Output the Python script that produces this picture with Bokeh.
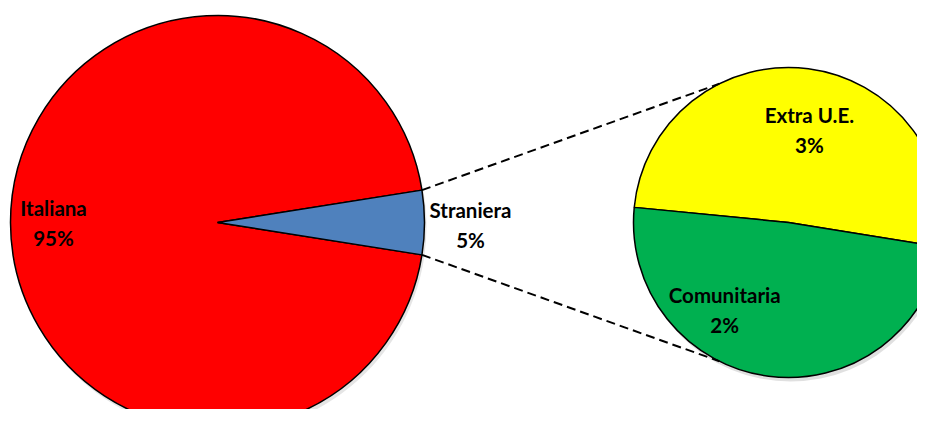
import math
from bokeh.plotting import figure
from bokeh.models import Range1d, ColumnDataSource
from bokeh.core.properties import value
from bokeh.embed import file_html
from bokeh.resources import INLINE

# ---- data ----
main_categories = ["Italiana", "Straniera"]
main_values = [95, 5]
sub_categories = ["Extra U.E.", "Comunitaria"]
sub_values = [2.55, 2.45]          # shares of the foreign 5%
main_colors = ["#FF0000", "#4F81BD"]
sub_colors = ["#FFFF00", "#00B050"]

# ---- layout (screen-pixel geometry; data y = 425 - screen y) ----
W, H = 917, 409
BIG_C = (217, 425 - 222)
BIG_R = 207
SMALL_C = (788, 425 - 222)
SMALL_R = 155
SMALL_START = 174.4          # degrees, where the Comunitaria slice starts
CONNECT_ANG = 116.5          # where connector lines meet the small pie

p = figure(width=W, height=H, output_backend="svg", toolbar_location=None,
           x_range=Range1d(0, W), y_range=Range1d(425 - H, 425),
           min_border=0)
p.axis.visible = False
p.grid.visible = False
p.outline_line_color = None
p.background_fill_color = "white"
p.border_fill_color = "white"

# ---- main pie ----
tot = sum(main_values)
strn = main_values[1] / tot * 2 * math.pi
s_start, s_end = -strn / 2, strn / 2
main_src = ColumnDataSource(dict(
    x=[BIG_C[0]] * 2, y=[BIG_C[1]] * 2,
    start=[s_end, s_start], end=[s_start + 2 * math.pi, s_end],
    color=main_colors, name=main_categories))

# soft shadows
p.circle(x=[BIG_C[0] + 2], y=[BIG_C[1] - 4], radius=BIG_R, fill_color="black",
         fill_alpha=0.10, line_color=None)
p.circle(x=[SMALL_C[0] + 2], y=[SMALL_C[1] - 4], radius=SMALL_R, fill_color="black",
         fill_alpha=0.12, line_color=None)

p.wedge(x="x", y="y", radius=BIG_R, start_angle="start", end_angle="end",
        fill_color="color", line_color="black", line_width=1.5, source=main_src)

# ---- secondary pie ----
stot = sum(sub_values)
g_ang = sub_values[1] / stot * 2 * math.pi
g_start = math.radians(SMALL_START)
g_end = g_start + g_ang
sub_src = ColumnDataSource(dict(
    x=[SMALL_C[0]] * 2, y=[SMALL_C[1]] * 2,
    start=[g_end, g_start], end=[g_start + 2 * math.pi, g_end],
    color=sub_colors, name=sub_categories))
p.wedge(x="x", y="y", radius=SMALL_R, start_angle="start", end_angle="end",
        fill_color="color", line_color="black", line_width=1.5, source=sub_src)

# ---- connector lines ----
ca = math.radians(CONNECT_ANG)
for sa, sgn in ((s_end, 1), (s_start, -1)):
    x0 = BIG_C[0] + BIG_R * math.cos(sa)
    y0 = BIG_C[1] + BIG_R * math.sin(sa)
    x1 = SMALL_C[0] + SMALL_R * math.cos(sgn * ca)
    y1 = SMALL_C[1] + SMALL_R * math.sin(sgn * ca)
    p.line([x0, x1], [y0, y1], line_color="black", line_width=2, line_dash="9 5")

# ---- labels ----
labels = [f"{c}\n{round(v)}%" for c, v in zip(main_categories, main_values)] + \
         [f"{c}\n{round(v)}%" for c, v in zip(sub_categories, sub_values)]
# label positions (polar offsets from each pie centre: angle deg, distance px)
label_polar = [(BIG_C, 180.3, 164), (BIG_C, -0.5, 253),
               (SMALL_C, 77.3, 95), (SMALL_C, 233.8, 108)]
lx = [c[0] + d * math.cos(math.radians(a)) for c, a, d in label_polar]
ly = [c[1] + d * math.sin(math.radians(a)) for c, a, d in label_polar]
p.text(x=lx, y=ly, text=labels, text_font=value("Lato"), text_font_style="bold",
       text_font_size="20.5px", text_align="center", text_baseline="middle",
       text_line_height=1.25, text_color="black")

open("out.html", "w").write(file_html(p, INLINE))
